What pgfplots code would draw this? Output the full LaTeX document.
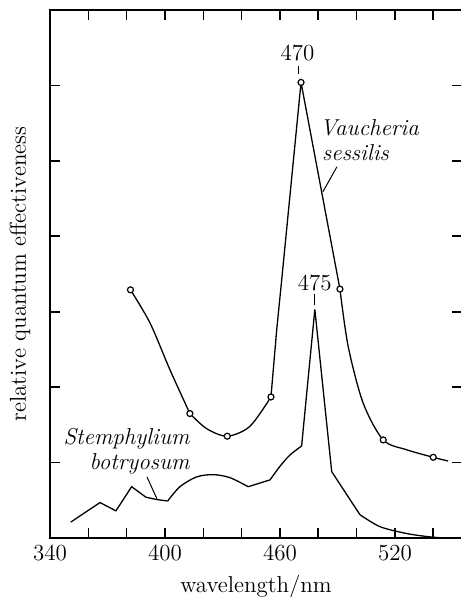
\documentclass[border=0pt]{standalone}
\usepackage{pgfplots}
\pgfplotsset{compat=1.18}
\usetikzlibrary{calc}

\begin{document}
\begin{tikzpicture}
\begin{axis}[
    name=ax,
    scale only axis,
    width=206pt, height=264pt,
    xmin=340, xmax=555,
    ymin=0, ymax=7,
    xtick={340,360,...,540},
    xticklabels={340,,,400,,,460,,,520,,},
    ytick={1,2,3,4,5,6},
    yticklabels={},
    tick align=inside,
    major tick length=5pt,
    tick style={line width=0.8pt, black},
    axis line style={line width=1pt},
    ticklabel style={font=\fontsize{11.5}{13}\selectfont},
    xlabel={wavelength/nm},
    ylabel={relative quantum effectiveness},
    label style={font=\fontsize{11.5}{13}\selectfont},
    xlabel style={at={(axis description cs:0.5,-0.093)}, anchor=center},
    ylabel style={at={(axis description cs:-0.073,0.5)}, anchor=center},
    clip=false,
]
% Vaucheria sessilis
\addplot[black, line width=0.65pt, smooth] coordinates {
    (382,3.29)(392.2,2.85)(402.6,2.23)(413,1.65)};
\addplot[black, line width=0.65pt, smooth] coordinates {
    (413,1.65)(421.7,1.45)(432.5,1.35)(444.3,1.48)(455.3,1.87)};
\addplot[black, line width=0.65pt, sharp plot] coordinates {
    (455.3,1.87)(458.3,2.76)(460.9,3.42)(471,6.04)(491.3,3.30)};
\addplot[black, line width=0.65pt, smooth] coordinates {
    (491.3,3.30)(495.6,2.54)(503.4,1.79)(513.9,1.30)(526.1,1.17)(540,1.07)(547.8,1.02)};
\addplot[only marks, mark=*, mark size=1.5pt, mark options={draw=black, fill=white, line width=0.6pt}] coordinates {
    (382,3.29)(413,1.65)(432.5,1.35)(455.3,1.87)(471,6.04)(491.3,3.30)(513.9,1.30)(540,1.07)};
% Stemphylium botryosum
\addplot[black, line width=0.65pt, sharp plot] coordinates {
    (350.8,0.21)(366.1,0.47)(374.4,0.36)(382.6,0.68)(390.1,0.54)(395.7,0.51)(401.4,0.49)};
\addplot[black, line width=0.65pt, smooth] coordinates {
    (401.4,0.49)(407.8,0.68)(416.5,0.81)(425.2,0.84)(433.9,0.80)(443.4,0.68)};
\addplot[black, line width=0.65pt, sharp plot] coordinates {
    (443.4,0.68)(454.8,0.77)};
\addplot[black, line width=0.65pt, smooth] coordinates {
    (454.8,0.77)(460,0.95)(465.2,1.10)(471.3,1.22)};
\addplot[black, line width=0.65pt, sharp plot] coordinates {
    (471.3,1.22)(478.2,3.03)(487,0.88)(501.7,0.31)};
\addplot[black, line width=0.65pt, smooth] coordinates {
    (501.7,0.31)(512.2,0.15)(526,0.06)(536.5,0.02)(545,0)};

% annotations
\node[font=\fontsize{11.5}{13}\selectfont] at (axis cs:469.2,6.43) {470};
\draw[line width=0.5pt] (axis cs:469.7,6.26) -- (axis cs:469.7,6.15);
\node[font=\fontsize{11.5}{13}\selectfont] at (axis cs:478.2,3.38) {475};
\draw[line width=0.5pt] (axis cs:478.2,3.23) -- (axis cs:478.2,3.09);
\node[font=\fontsize{11.5}{12.5}\selectfont\itshape, align=left, anchor=west, inner sep=0pt]
    at (axis cs:480.8,5.28) {Vaucheria\\ \hspace*{1pt}sessilis};
\draw[line width=0.5pt] (axis cs:489.7,4.92) -- (axis cs:482.4,4.59);
\node[font=\fontsize{11.5}{12.5}\selectfont\itshape, align=right, anchor=east, inner sep=0pt]
    at (axis cs:413,1.15) {Stemphylium\\ botryosum};
\draw[line width=0.5pt] (axis cs:390.6,0.81) -- (axis cs:395.8,0.52);
\end{axis}
\pgfresetboundingbox
\path[use as bounding box] ($(ax.south west)+(-25pt,-29.5pt)$) rectangle ($(ax.north east)+(-0.6pt,5pt)$);
\end{tikzpicture}
\end{document}
